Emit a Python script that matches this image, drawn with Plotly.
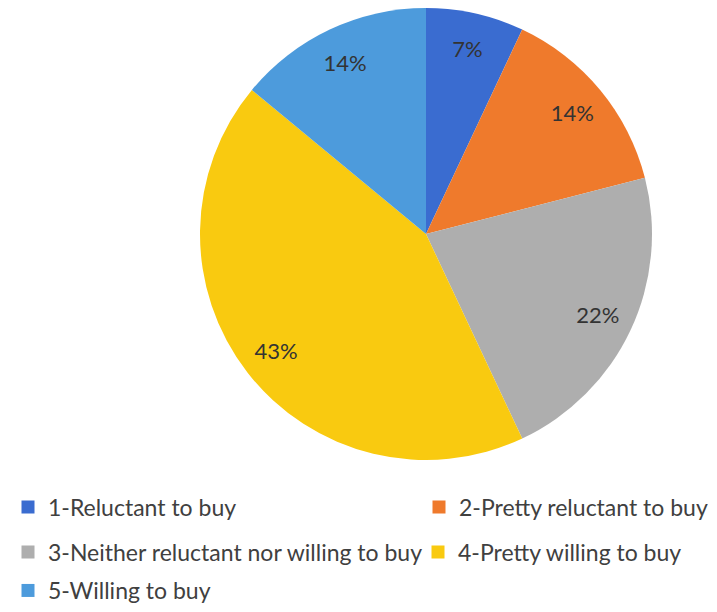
import plotly.graph_objects as go

labels = ["1-Reluctant to buy", "2-Pretty reluctant to buy",
          "3-Neither reluctant nor willing to buy", "4-Pretty willing to buy",
          "5-Willing to buy"]
values = [7, 14, 22, 43, 14]
colors = ["#3A6CD0", "#EF7A2C", "#AEAEAE", "#F9CA10", "#4D9BDC"]

# which legend row each entry sits in, and fixed widths for first-column entries
legend_rows = ["legend", "legend", "legend2", "legend2", "legend3"]
first_col_width = [366, None, 365, None, None]

# the page adds an 8px body margin, so the figure is 8px smaller than the window
W, H = 709, 604
cx, cy, r = 418, 226, 226
dom = dict(x=[(cx - r) / W, (cx + r) / W],
           y=[max(0.0, 1 - (cy + r) / H), min(1.0, 1 - (cy - r) / H)])

fig = go.Figure()

# coloured pie
fig.add_trace(go.Pie(
    labels=labels, values=values, sort=False, direction="clockwise", rotation=0,
    marker=dict(colors=colors, line=dict(width=0)),
    textinfo="none", domain=dom, hoverinfo="skip", showlegend=False,
))

# transparent ring overlay that carries the percentage labels near the rim
fig.add_trace(go.Pie(
    labels=labels, values=values, sort=False, direction="clockwise", rotation=0,
    hole=0.68,
    marker=dict(colors=["rgba(0,0,0,0)"] * len(values), line=dict(width=0)),
    texttemplate="%{percent:.0%}", textposition="inside",
    insidetextorientation="horizontal",
    textfont=dict(family="Lato", size=22, color="#333333"),
    domain=dom, hoverinfo="skip", showlegend=False,
))

# legend entries
for lab, col, lg, lw in zip(labels, colors, legend_rows, first_col_width):
    fig.add_trace(go.Scatter(
        x=[None], y=[None], mode="markers", name=lab,
        marker=dict(symbol="square", size=13, color=col),
        legend=lg, legendwidth=lw, hoverinfo="skip",
    ))

leg_common = dict(
    orientation="h", x=0.0, xanchor="left",
    font=dict(family="Lato", size=23, color="#404040"),
    bgcolor="rgba(0,0,0,0)", traceorder="normal",
)
fig.update_layout(
    width=W, height=H,
    margin=dict(l=0, r=0, t=0, b=0),
    paper_bgcolor="white", plot_bgcolor="white",
    xaxis=dict(visible=False), yaxis=dict(visible=False),
    legend=dict(y=1 - 499 / H, yanchor="middle", **leg_common),
    legend2=dict(y=1 - 544 / H, yanchor="middle", **leg_common),
    legend3=dict(y=0.0, yanchor="bottom", **leg_common),
)

fig.write_html("out.html")
